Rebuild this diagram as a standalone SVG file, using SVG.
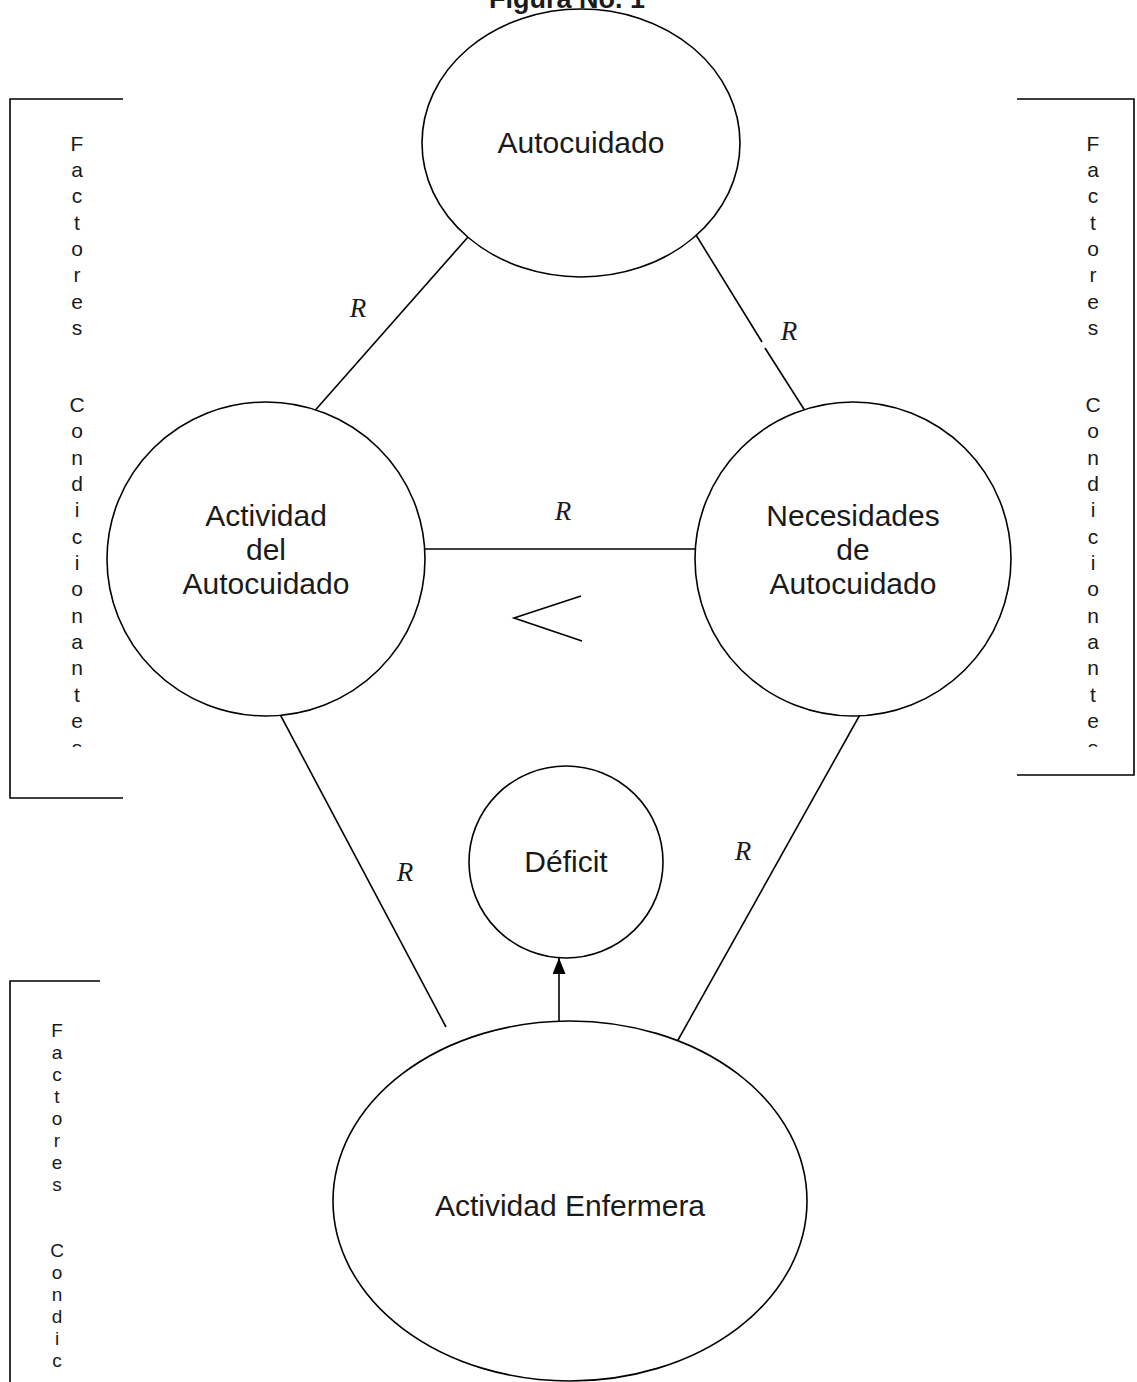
<svg xmlns="http://www.w3.org/2000/svg" width="1137" height="1382" viewBox="0 0 1137 1382">
<style>
.n{fill:#fff;stroke:#000;stroke-width:1.6}
.t{font-family:"Liberation Sans",Arial,sans-serif;font-size:30px;fill:#1a1a1a;text-anchor:middle}
.r{font-family:"Liberation Serif","Times New Roman",serif;font-style:italic;font-size:27px;fill:#1a1a1a;text-anchor:middle}
.v{font-family:"Liberation Sans",Arial,sans-serif;font-size:21px;fill:#1a1a1a;text-anchor:middle}
.vs{font-family:"Liberation Sans",Arial,sans-serif;font-size:19px;fill:#1a1a1a;text-anchor:middle}
.l{stroke:#000;stroke-width:1.6;fill:none}
</style>
<defs>
<marker id="ah" viewBox="0 0 16 13" refX="16" refY="6.5" markerWidth="16" markerHeight="13" markerUnits="userSpaceOnUse" orient="auto">
<path d="M0,0 L16,6.5 L0,13 z" fill="#000"/>
</marker>
<clipPath id="c1"><rect x="0" y="90" width="1137" height="657"/></clipPath>
</defs>
<rect width="1137" height="1382" fill="#fff"/>
<text x="567" y="8" font-family="Liberation Sans,Arial,sans-serif" font-weight="bold" font-size="27" text-anchor="middle" fill="#1a1a1a">Figura No. 1</text>

<g id="brackets">
<path class="l" d="M123,99 H10 V798 H123"/>
<path class="l" d="M1017,99 H1134 V775 H1017"/>
<path class="l" d="M100,981 H10 V1382"/>
</g>

<g id="factores-left" clip-path="url(#c1)">
<text class="v" x="77" y="151">F</text><text class="v" x="77" y="177">a</text><text class="v" x="77" y="203">c</text><text class="v" x="77" y="230">t</text><text class="v" x="77" y="256">o</text><text class="v" x="77" y="282">r</text><text class="v" x="77" y="309">e</text><text class="v" x="77" y="335">s</text>
<text class="v" x="77" y="412">C</text><text class="v" x="77" y="438">o</text><text class="v" x="77" y="465">n</text><text class="v" x="77" y="491">d</text><text class="v" x="77" y="517">i</text><text class="v" x="77" y="544">c</text><text class="v" x="77" y="570">i</text><text class="v" x="77" y="596">o</text><text class="v" x="77" y="623">n</text><text class="v" x="77" y="649">a</text><text class="v" x="77" y="675">n</text><text class="v" x="77" y="702">t</text><text class="v" x="77" y="728">e</text><text class="v" x="77" y="755">s</text>
</g>
<g id="factores-right" clip-path="url(#c1)">
<text class="v" x="1093" y="151">F</text><text class="v" x="1093" y="177">a</text><text class="v" x="1093" y="203">c</text><text class="v" x="1093" y="230">t</text><text class="v" x="1093" y="256">o</text><text class="v" x="1093" y="282">r</text><text class="v" x="1093" y="309">e</text><text class="v" x="1093" y="335">s</text>
<text class="v" x="1093" y="412">C</text><text class="v" x="1093" y="438">o</text><text class="v" x="1093" y="465">n</text><text class="v" x="1093" y="491">d</text><text class="v" x="1093" y="517">i</text><text class="v" x="1093" y="544">c</text><text class="v" x="1093" y="570">i</text><text class="v" x="1093" y="596">o</text><text class="v" x="1093" y="623">n</text><text class="v" x="1093" y="649">a</text><text class="v" x="1093" y="675">n</text><text class="v" x="1093" y="702">t</text><text class="v" x="1093" y="728">e</text><text class="v" x="1093" y="755">s</text>
</g>
<g id="factores-bottom">
<text class="vs" x="57" y="1037">F</text><text class="vs" x="57" y="1059">a</text><text class="vs" x="57" y="1081">c</text><text class="vs" x="57" y="1103">t</text><text class="vs" x="57" y="1125">o</text><text class="vs" x="57" y="1147">r</text><text class="vs" x="57" y="1169">e</text><text class="vs" x="57" y="1191">s</text>
<text class="vs" x="57" y="1257">C</text><text class="vs" x="57" y="1279">o</text><text class="vs" x="57" y="1301">n</text><text class="vs" x="57" y="1323">d</text><text class="vs" x="57" y="1345">i</text><text class="vs" x="57" y="1367">c</text>
</g>

<g id="connectors">
<line class="l" x1="468" y1="237" x2="311" y2="415"/>
<line class="l" x1="696" y1="235" x2="762" y2="342"/>
<line class="l" x1="765" y1="348" x2="807" y2="414"/>
<line class="l" x1="425" y1="549" x2="695" y2="549"/>
<line class="l" x1="265" y1="686" x2="446" y2="1027"/>
<line class="l" x1="876" y1="686" x2="673" y2="1049"/>
<line class="l" x1="559" y1="1025" x2="559" y2="958" marker-end="url(#ah)"/>
<polyline class="l" points="581,596 514,618 582,641"/>
<text class="r" x="358" y="317">R</text>
<text class="r" x="789" y="340">R</text>
<text class="r" x="563" y="520">R</text>
<text class="r" x="405" y="881">R</text>
<text class="r" x="743" y="860">R</text>
</g>

<g id="autocuidado">
<ellipse class="n" cx="581" cy="143" rx="159" ry="134"/>
<text class="t" x="581" y="153">Autocuidado</text>
</g>
<g id="actividad-autocuidado">
<ellipse class="n" cx="266" cy="559" rx="159" ry="157"/>
<text class="t" x="266" y="526">Actividad</text>
<text class="t" x="266" y="560">del</text>
<text class="t" x="266" y="594">Autocuidado</text>
</g>
<g id="necesidades">
<ellipse class="n" cx="853" cy="559" rx="158" ry="157"/>
<text class="t" x="853" y="526">Necesidades</text>
<text class="t" x="853" y="560">de</text>
<text class="t" x="853" y="594">Autocuidado</text>
</g>
<g id="deficit">
<ellipse class="n" cx="566" cy="862" rx="97" ry="96"/>
<text class="t" x="566" y="872">Déficit</text>
</g>
<g id="actividad-enfermera">
<ellipse class="n" cx="570" cy="1201" rx="237" ry="180"/>
<text class="t" x="570" y="1216">Actividad Enfermera</text>
</g>
</svg>
